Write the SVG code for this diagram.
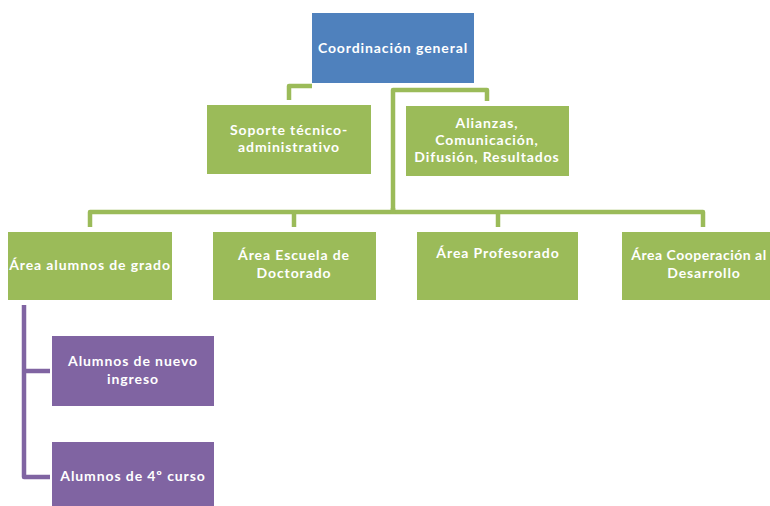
<svg xmlns="http://www.w3.org/2000/svg" width="770" height="506" viewBox="0 0 770 506">
<style>
.blue{fill:#4F81BD}
.green{fill:#9BBB59}
.purple{fill:#8064A2}
.t{font-family:Lato,"Open Sans",sans-serif;font-weight:bold;font-size:14px;fill:#fff;text-anchor:middle;letter-spacing:0.9px}
.cg{fill:none;stroke:#9BBB59;stroke-width:4.5;stroke-linejoin:round}
.cp{fill:none;stroke:#8064A2;stroke-width:4.5;stroke-linejoin:round}
</style>
<rect width="770" height="506" fill="#fff"/>
<g id="connectors">
<path class="cg" d="M289,100 V86 H312"/>
<path class="cg" d="M393,210 V90 H487 V101"/>
<path class="cg" d="M90,227 V212 H703 V227"/>
<path class="cg" d="M294,212 V227"/>
<path class="cg" d="M498,212 V227"/>
<path class="cg" d="M393,208 V214"/>
<path class="cp" d="M24,305 V477 H50"/>
<path class="cp" d="M24,371 H50"/>
</g>
<g id="coordinacion">
<rect class="blue" x="312" y="13" width="162" height="70"/>
<text class="t" x="393" y="53">Coordinación general</text>
</g>
<g id="soporte">
<rect class="green" x="207" y="105" width="164" height="69"/>
<text class="t" x="289" y="135">Soporte técnico-</text>
<text class="t" x="289" y="152">administrativo</text>
</g>
<g id="alianzas">
<rect class="green" x="406" y="106" width="163" height="70"/>
<text class="t" x="487" y="128">Alianzas,</text>
<text class="t" x="487" y="145">Comunicación,</text>
<text class="t" x="487" y="162">Difusión, Resultados</text>
</g>
<g id="area-grado">
<rect class="green" x="8" y="232" width="164" height="68"/>
<text class="t" x="90" y="270">Área alumnos de grado</text>
</g>
<g id="area-doctorado">
<rect class="green" x="213" y="232" width="163" height="68"/>
<text class="t" x="294" y="260">Área Escuela de</text>
<text class="t" x="294" y="278">Doctorado</text>
</g>
<g id="area-profesorado">
<rect class="green" x="417" y="232" width="161" height="68"/>
<text class="t" x="498" y="258">Área Profesorado</text>
</g>
<g id="area-cooperacion">
<rect class="green" x="622" y="232" width="164" height="68"/>
<text class="t" x="699" y="260" style="letter-spacing:0.5px">Área Cooperación al</text>
<text class="t" x="704" y="278">Desarrollo</text>
</g>
<g id="nuevo-ingreso">
<rect class="purple" x="52" y="336" width="162" height="70"/>
<text class="t" x="133" y="366">Alumnos de nuevo</text>
<text class="t" x="133" y="384">ingreso</text>
</g>
<g id="cuarto-curso">
<rect class="purple" x="52" y="442" width="162" height="70"/>
<text class="t" x="133" y="481">Alumnos de 4º curso</text>
</g>
</svg>
